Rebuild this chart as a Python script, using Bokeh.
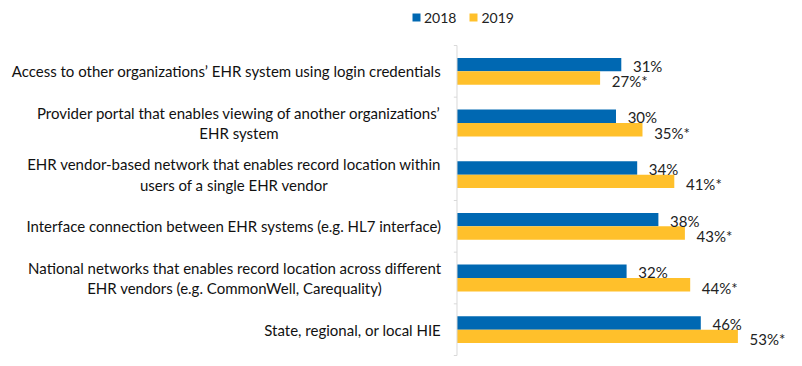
from bokeh.plotting import figure
from bokeh.models import ColumnDataSource, Range1d, Legend, LegendItem
from bokeh.core.properties import value
from bokeh.embed import file_html
from bokeh.resources import INLINE

categories = [
    "Access to other organizations\u2019 EHR system using login credentials",
    "Provider portal that enables viewing of another organizations\u2019\nEHR system",
    "EHR vendor-based network that enables record location within\nusers of a single EHR vendor",
    "Interface connection between EHR systems (e.g. HL7 interface)",
    "National networks that enables record location across different\nEHR vendors (e.g. CommonWell, Carequality)",
    "State, regional, or local HIE",
]
v2018 = [31, 30, 34, 38, 32, 46]
v2019 = [27, 35, 41, 43, 44, 53]
labels2018 = ["31%", "30%", "34%", "38%", "32%", "46%"]
labels2019 = ["27%*", "35%*", "41%*", "43%*", "44%*", "53%*"]
series = ["2018", "2019"]

BLUE = "#0068B2"
YELLOW = "#FFC02B"
FONT = "Lato"

n = len(categories)
ypos = [n - 1 - i + 0.5 for i in range(n)]
off = 0.13
bar_h = 0.26

src = ColumnDataSource(dict(
    cat=categories, y=ypos,
    y18=[y + off for y in ypos], y19=[y - off for y in ypos],
    v18=v2018, v19=v2019,
    l18=labels2018, l19=labels2019,
    lx18=[v + 2.2 for v in v2018], lx19=[v + 2.2 for v in v2019],
    cx=[-3.0] * n,
))

p = figure(width=794, height=358, output_backend="svg", toolbar_location=None,
           x_range=Range1d(-86.13, 63.68), y_range=Range1d(-0.058, 6.871),
           x_axis_location=None, y_axis_location=None,
           min_border_left=0, min_border_right=0, min_border_top=0, min_border_bottom=0)
p.outline_line_color = None
p.grid.visible = False

r18 = p.hbar(y="y18", left=0, right="v18", height=bar_h, source=src,
             fill_color=BLUE, line_color=None)
r19 = p.hbar(y="y19", left=0, right="v19", height=bar_h, source=src,
             fill_color=YELLOW, line_color=None)

# vertical axis line with boundary ticks
bounds = list(range(n + 1))
p.segment(x0=[0], x1=[0], y0=[bounds[0]], y1=[bounds[-1]], line_color="#D9D9D9", line_width=1)
p.segment(x0=[-0.6] * len(bounds), x1=[0] * len(bounds), y0=bounds, y1=bounds,
          line_color="#D9D9D9", line_width=1)

# category labels
p.text(x="cx", y="y", text="cat", source=src, anchor="center_right", text_align="center",
       text_font=value(FONT), text_font_size="15px", text_color="#111111",
       text_line_height=1.15)

# value labels
p.text(x="lx18", y="y18", text="l18", source=src, text_align="left", text_baseline="middle",
       y_offset=1, text_font=value(FONT), text_font_size="15px", text_color="#222222")
p.text(x="lx19", y="y19", text="l19", source=src, text_align="left", text_baseline="middle",
       y_offset=3, text_font=value(FONT), text_font_size="15px", text_color="#222222")

legend = Legend(items=[LegendItem(label=series[0], renderers=[r18]),
                       LegendItem(label=series[1], renderers=[r19])],
                orientation="horizontal", location=(411, 332),
                glyph_width=10, glyph_height=10, label_standoff=3, spacing=12,
                padding=0, margin=0, border_line_color=None, background_fill_alpha=0,
                label_text_font=FONT, label_text_font_size="14px", label_text_color="#222222",
                label_height=18)
p.add_layout(legend, "center")

open("out.html", "w").write(file_html(p, INLINE))
